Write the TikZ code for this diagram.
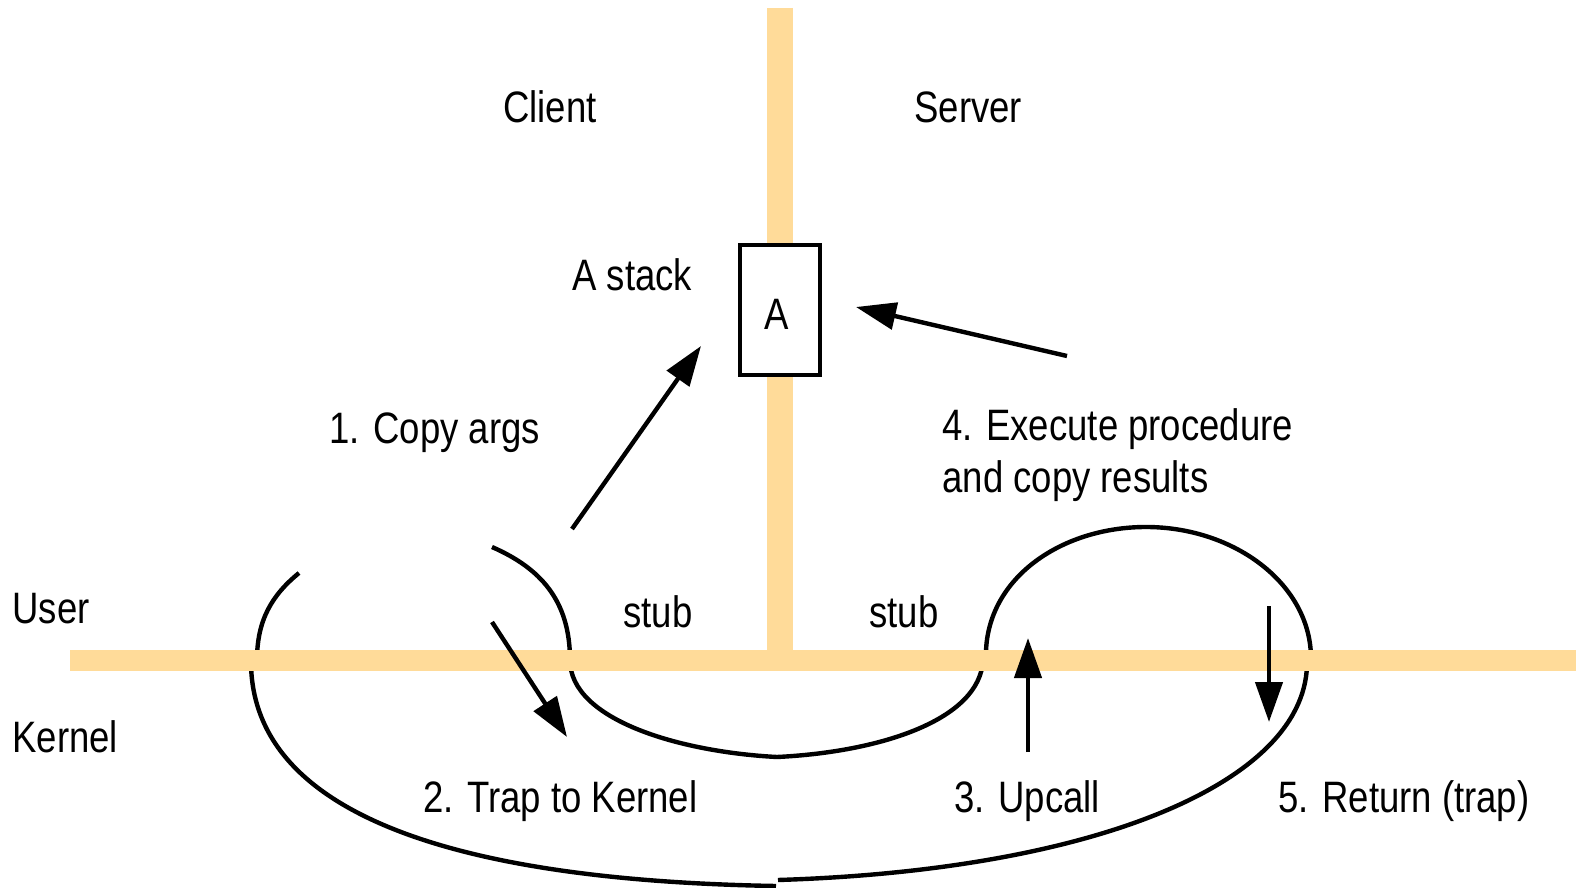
\documentclass[tikz,border=0pt]{standalone}
\usepackage{fontspec}
\setmainfont{Liberation Sans}[FakeStretch=0.83]
\usetikzlibrary{arrows.meta}
\definecolor{barcol}{RGB}{255,219,153}
\begin{document}
\begin{tikzpicture}[x=0.5pt,y=-0.5pt,
  lbl/.style={anchor=base west, inner sep=0pt, font=\fontsize{22}{26}\selectfont},
  curve/.style={line width=2.2pt, line cap=butt},
  arr/.style={line width=2.2pt, -{Triangle[length=20pt,width=13.5pt]}},
  barline/.style={draw=barcol, line width=#1}]
\path[use as bounding box] (0,0) rectangle (1576,888);

% curves (under the bars)
\draw[curve] (299,573) .. controls (272,595) and (257,620) .. (257,660);
\draw[curve] (492,547) .. controls (540,568) and (570,600) .. (570,660);
\draw[curve] (251,660) .. controls (250,800) and (420,880) .. (776,886);
\draw[curve] (778,880) .. controls (1100,870) and (1310,780) .. (1307,660);
\draw[curve] (570,660) .. controls (570,720) and (680,752) .. (777,757);
\draw[curve] (777,757) .. controls (880,752) and (980,720) .. (983,660);
\draw[curve] (986,660) .. controls (983,580) and (1060,527) .. (1146,527)
                       .. controls (1235,527) and (1312,585) .. (1311,660);

% bars
\coordinate (vtop) at (780,8);
\coordinate (cross) at (780,660);
\coordinate (hleft) at (70,660);
\coordinate (hright) at (1576,660);
\draw[barline=13pt] (vtop) -- (cross);
\draw[barline=10.5pt] (hleft) -- (hright);

% stack box
\node[draw, line width=2.2pt, fill=white, minimum width=40pt, minimum height=65pt, inner sep=0pt] (stack) at (780,310) {};
\node[lbl] (alabel) at (764,329) {A};

% texts
\node[lbl] (client) at (503,123) {Client};
\node[lbl] (server) at (914,123) {Server};
\node[lbl] (astack) at (572,291) {A stack};
\node[lbl] (copy) at (329,443) {1. Copy args};
\node[lbl] (exec1) at (942,440) {4. Execute procedure};
\node[lbl] (exec2) at (942,492) {and copy results};
\node[lbl] (user) at (12,623) {User};
\node[lbl] (kernel) at (12,752) {Kernel};
\node[lbl] (stubl) at (623,627) {stub};
\node[lbl] (stubr) at (869,627) {stub};
\node[lbl] (trap) at (423,812) {2. Trap to Kernel};
\node[lbl] (upcall) at (954,812) {3. Upcall};
\node[lbl] (ret) at (1278,812) {5. Return (trap)};

% arrows
\coordinate (a1s) at (572,529);
\coordinate (a1e) at (701,346);
\coordinate (a4s) at (1067,356);
\coordinate (a4e) at (856,307);
\coordinate (a2s) at (492,622);
\coordinate (a2e) at (567,737);
\coordinate (a3s) at (1028,752);
\coordinate (a3e) at (1028,638);
\coordinate (a5s) at (1269,606);
\coordinate (a5e) at (1269,722);
\draw[arr] (a1s) -- (a1e);
\draw[arr] (a4s) -- (a4e);
\draw[arr] (a2s) -- (a2e);
\draw[arr] (a3s) -- (a3e);
\draw[arr] (a5s) -- (a5e);
\end{tikzpicture}
\end{document}
